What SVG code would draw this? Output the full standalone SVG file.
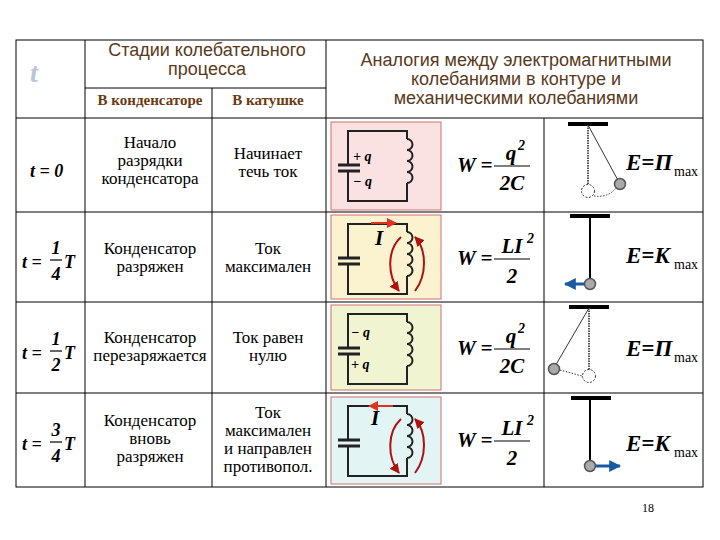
<svg xmlns="http://www.w3.org/2000/svg" width="720" height="540" viewBox="0 0 720 540">
<style>
.g{stroke:#000;stroke-width:1;fill:none}
.w{stroke:#222;stroke-width:2;fill:none}
.s{font-family:'Liberation Serif','DejaVu Serif',serif;font-size:17px;text-anchor:middle}
.h{font-family:'Liberation Sans',sans-serif;font-size:18px;fill:#5a3a1a;text-anchor:middle}
.sh{font-family:'Liberation Serif','DejaVu Serif',serif;font-size:15px;font-weight:bold;fill:#6b3a10;text-anchor:middle}
.m{font-family:'Liberation Serif','DejaVu Serif',serif;font-style:italic;font-weight:bold;font-size:21px}
.mt{font-family:'Liberation Serif','DejaVu Serif',serif;font-style:italic;font-weight:bold;font-size:18px}
.q{font-family:'Liberation Serif','DejaVu Serif',serif;font-style:italic;font-weight:bold;font-size:14px}
.E{font-family:'Liberation Serif','DejaVu Serif',serif;font-style:italic;font-weight:bold;font-size:23px}
.mx{font-family:'Liberation Serif','DejaVu Serif',serif;font-size:14px}
.ball{fill:#aaa;stroke:#555;stroke-width:1.5}
</style>
<defs>
<marker id="ar" viewBox="0 0 10 10" refX="9" refY="5" markerWidth="5" markerHeight="5" orient="auto"><path d="M0,0L10,5L0,10z" fill="#e03020"/></marker>
<marker id="ab" viewBox="0 0 10 10" refX="9" refY="5" markerWidth="4" markerHeight="4" orient="auto"><path d="M0,0L10,5L0,10z" fill="#1a5aa0"/></marker>
<marker id="ad" viewBox="0 0 10 10" refX="9" refY="5" markerWidth="5" markerHeight="5" orient="auto"><path d="M0,0L10,5L0,10z" fill="#b01010"/></marker>
<g id="coil"><path d="M76,17 a5.5,5.5 0 0 1 0,11 a5.5,5.5 0 0 1 0,11 a5.5,5.5 0 0 1 0,11 a5.5,5.5 0 0 1 0,11" class="w"/></g>
<g id="loop"><path d="M17,43 V9 H76 V17 M76,61 V79 H17 V49" class="w"/><path d="M7,43 H29 M7,49 H29" stroke="#222" stroke-width="3"/><use href="#coil"/></g>
<g id="field"><path d="M70,22 C56,35 56,60 68,76" stroke="#b01010" stroke-width="2" fill="none" marker-end="url(#ad)"/><path d="M84,76 C96,60 96,35 84,22" stroke="#b01010" stroke-width="2" fill="none" marker-end="url(#ad)"/></g>
</defs>
<rect width="720" height="540" fill="#fff"/>
<g id="table">
<rect x="16" y="40" width="687" height="447" class="g" stroke-width="2.5"/>
<path d="M85,40V487 M212,88V487 M326,40V487 M544,118V487 M85,88H326 M16,118H703 M16,212H703 M16,302H703 M16,393H703" class="g"/>
</g>
<g id="header">
<text x="30" y="82" font-family="'Liberation Serif',serif" font-style="italic" font-weight="bold" font-size="28" fill="#b8c4d8">t</text>
<text x="207" y="56" class="h">Стадии колебательного</text>
<text x="207" y="75" class="h">процесса</text>
<text x="150" y="105" class="sh">В конденсаторе</text>
<text x="268" y="105" class="sh">В катушке</text>
<text x="516" y="66" class="h">Аналогия между электромагнитными</text>
<text x="516" y="85" class="h">колебаниями в контуре и</text>
<text x="516" y="104" class="h">механическими колебаниями</text>
</g>
<g id="tcol">
<text x="30" y="177" class="mt">t = 0</text>
<g><text x="22" y="268" class="mt">t =</text><text x="56" y="254" class="mt" text-anchor="middle">1</text><path d="M50,260H62" stroke="#000" stroke-width="1.2"/><text x="56" y="280" class="mt" text-anchor="middle">4</text><text x="64" y="268" class="mt">T</text></g>
<g><text x="22" y="359" class="mt">t =</text><text x="56" y="345" class="mt" text-anchor="middle">1</text><path d="M50,351H62" stroke="#000" stroke-width="1.2"/><text x="56" y="371" class="mt" text-anchor="middle">2</text><text x="64" y="359" class="mt">T</text></g>
<g><text x="22" y="450" class="mt">t =</text><text x="56" y="436" class="mt" text-anchor="middle">3</text><path d="M50,442H62" stroke="#000" stroke-width="1.2"/><text x="56" y="462" class="mt" text-anchor="middle">4</text><text x="64" y="450" class="mt">T</text></g>
</g>
<g id="stages">
<text class="s" x="150" y="148">Начало</text><text class="s" x="150" y="166">разрядки</text><text class="s" x="150" y="184">конденсатора</text>
<text class="s" x="268" y="159">Начинает</text><text class="s" x="268" y="177">течь ток</text>
<text class="s" x="150" y="254">Конденсатор</text><text class="s" x="150" y="272">разряжен</text>
<text class="s" x="268" y="254">Ток</text><text class="s" x="268" y="272">максимален</text>
<text class="s" x="150" y="343">Конденсатор</text><text class="s" x="150" y="361">перезаряжается</text>
<text class="s" x="268" y="343">Ток равен</text><text class="s" x="268" y="361">нулю</text>
<text class="s" x="150" y="426">Конденсатор</text><text class="s" x="150" y="444">вновь</text><text class="s" x="150" y="462">разряжен</text>
<text class="s" x="268" y="418">Ток</text><text class="s" x="268" y="436">максимален</text><text class="s" x="268" y="454">и направлен</text><text class="s" x="268" y="472">противопол.</text>
</g>
<g id="c1" transform="translate(331,122)"><rect width="110" height="88" fill="#fbe2e2" stroke="#d07070"/><use href="#loop"/><text x="22" y="39" class="q">+ q</text><text x="22" y="64" class="q">− q</text></g>
<g id="c2" transform="translate(331,215)"><rect width="110" height="84" fill="#fbf3cf" stroke="#d07070"/><use href="#loop"/><path d="M40,8H65" stroke="#e03020" stroke-width="2" marker-end="url(#ar)"/><text x="44" y="30" class="m" font-size="18">I</text><use href="#field"/></g>
<g id="c3" transform="translate(331,305)"><rect width="110" height="85" fill="#f0f4d0" stroke="#d07070"/><use href="#loop"/><text x="20" y="32" class="q">− q</text><text x="20" y="64" class="q">+ q</text></g>
<g id="c4" transform="translate(331,397)"><rect width="110" height="87" fill="#e2f4f4" stroke="#d07070"/><use href="#loop"/><path d="M62,9H38" stroke="#e03020" stroke-width="2" marker-end="url(#ar)"/><text x="40" y="28" class="m" font-size="18">I</text><use href="#field"/></g>
<g id="f1"><text x="457" y="172" class="m">W =</text><text x="511" y="160" class="m" text-anchor="middle">q</text><text x="518" y="150" class="q" font-size="10">2</text><path d="M494,166H530" stroke="#000" stroke-width="1.2"/><text x="512" y="190" class="m" text-anchor="middle">2C</text></g>
<g id="f2"><text x="457" y="265" class="m">W =</text><text x="512" y="253" class="m" text-anchor="middle">LI</text><text x="527" y="243" class="q" font-size="10">2</text><path d="M494,259H530" stroke="#000" stroke-width="1.2"/><text x="512" y="283" class="m" text-anchor="middle">2</text></g>
<g id="f3"><text x="457" y="355" class="m">W =</text><text x="511" y="343" class="m" text-anchor="middle">q</text><text x="518" y="333" class="q" font-size="10">2</text><path d="M494,349H530" stroke="#000" stroke-width="1.2"/><text x="512" y="373" class="m" text-anchor="middle">2C</text></g>
<g id="f4"><text x="457" y="447" class="m">W =</text><text x="512" y="435" class="m" text-anchor="middle">LI</text><text x="527" y="425" class="q" font-size="10">2</text><path d="M494,441H530" stroke="#000" stroke-width="1.2"/><text x="512" y="465" class="m" text-anchor="middle">2</text></g>
<g id="p1"><path d="M568,124H608" stroke="#000" stroke-width="4"/><path d="M588,125V184" stroke="#555" stroke-width="2" stroke-dasharray="1.5,1"/><path d="M588,125L620,184" stroke="#000" stroke-width="0.8"/><circle cx="588" cy="191" r="6.5" fill="none" stroke="#333" stroke-dasharray="2,1.5"/><path d="M594,196Q608,198 616,188" fill="none" stroke="#333" stroke-dasharray="1.5,1.5"/><circle cx="620" cy="184" r="5.5" class="ball"/><text x="626" y="170" class="E">E=П</text><text x="674" y="176" class="mx">max</text></g>
<g id="p2"><path d="M570,216H610" stroke="#000" stroke-width="4"/><path d="M590,217V278" stroke="#000" stroke-width="2"/><circle cx="590" cy="284" r="5.5" class="ball"/><path d="M584,284H565" stroke="#1a5aa0" stroke-width="3" marker-end="url(#ab)"/><text x="626" y="263" class="E">E=K</text><text x="674" y="269" class="mx">max</text></g>
<g id="p3"><path d="M569,307H609" stroke="#000" stroke-width="4"/><path d="M589,308V370" stroke="#555" stroke-width="2" stroke-dasharray="1.5,1"/><path d="M589,308L554,368" stroke="#000" stroke-width="0.8"/><circle cx="589" cy="376" r="6.5" fill="none" stroke="#333" stroke-dasharray="2,1.5"/><path d="M560,370L582,376" fill="none" stroke="#333" stroke-dasharray="1.5,1.5"/><circle cx="554" cy="369" r="5.5" class="ball"/><text x="626" y="356" class="E">E=П</text><text x="674" y="362" class="mx">max</text></g>
<g id="p4"><path d="M571,398H611" stroke="#000" stroke-width="4"/><path d="M590,399V460" stroke="#000" stroke-width="2"/><circle cx="590" cy="466" r="5.5" class="ball"/><path d="M596,466H620" stroke="#1a5aa0" stroke-width="3" marker-end="url(#ab)"/><text x="626" y="451" class="E">E=K</text><text x="674" y="457" class="mx">max</text></g>
<text x="648" y="512" font-family="'Liberation Serif',serif" font-size="12" text-anchor="middle">18</text>
</svg>
